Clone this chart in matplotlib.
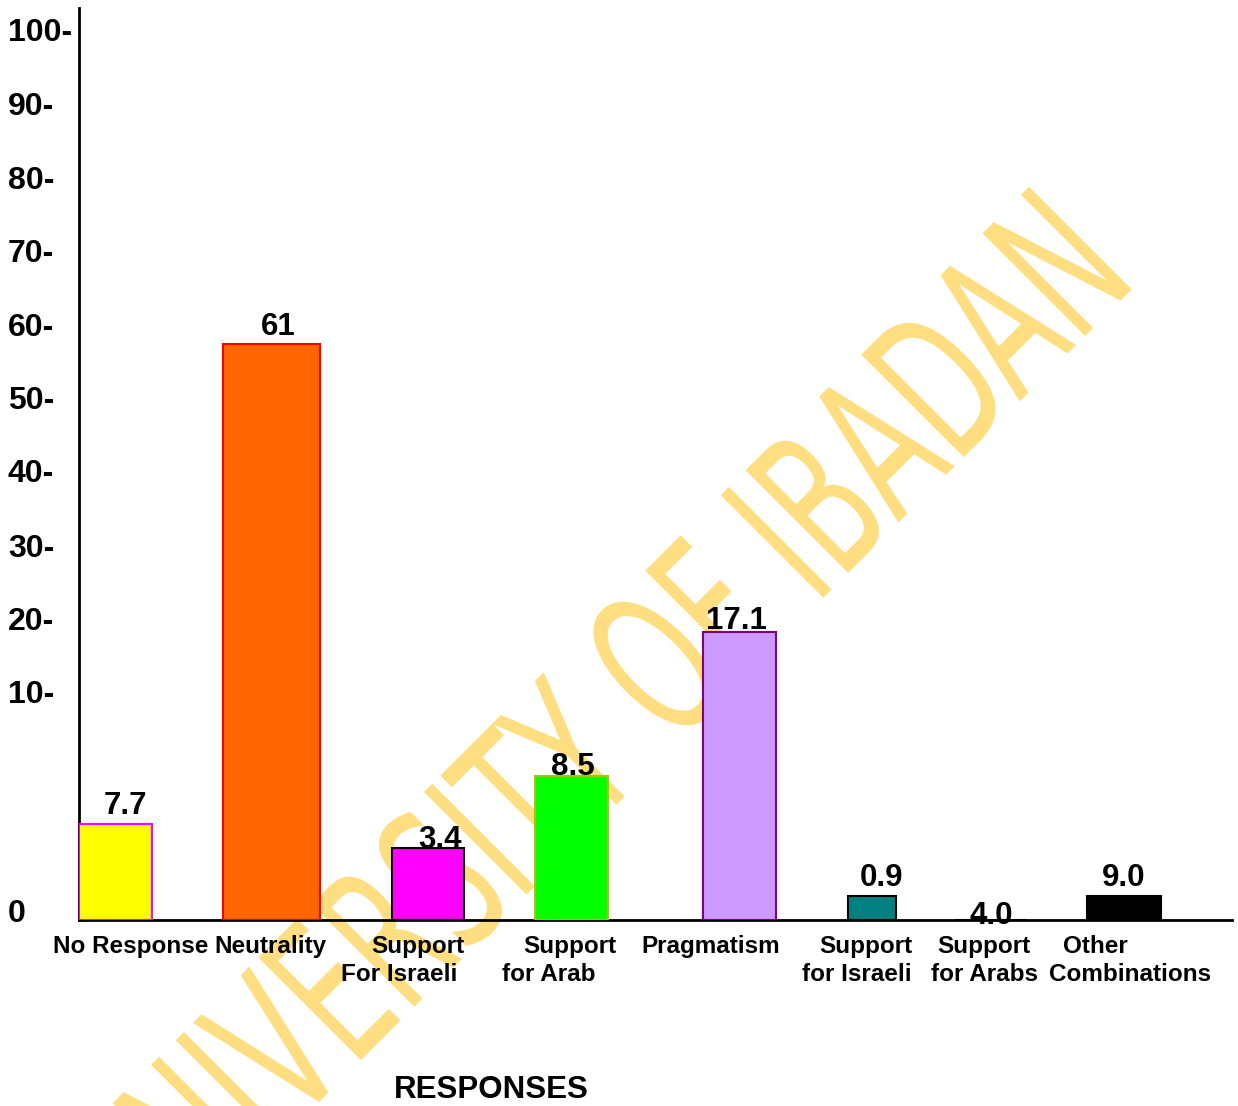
import matplotlib
matplotlib.use("Agg")
import matplotlib.pyplot as plt
import matplotlib.transforms as mtransforms
from matplotlib.font_manager import FontProperties
from matplotlib.patches import PathPatch
from matplotlib.textpath import TextPath

# values printed above the bars
value_labels = ["7.7", "61", "3.4", "8.5", "17.1", "0.9", "4.0", "9.0"]
# bar heights as drawn, read against the chart's own vertical scale
bar_heights = [13.05, 78.3, 9.79, 19.58, 39.15, 3.26, 0.0, 3.26]
cat_line1 = ["No Response", "Neutrality", "Support", "Support", "Pragmatism",
             "Support", "Support", "Other"]
cat_line2 = ["", "", "For Israeli", "for Arab", "", "for Israeli", "for Arabs",
             "Combinations"]
ytick_labels = ["0", "10-", "20-", "30-", "40-", "50-", "60-", "70-", "80-", "90-", "100-"]

# layout: the original spaces its slots unevenly
ytick_pos = [0.8, 30.6, 40.5, 50.5, 60.6, 70.5, 80.5, 90.5, 100.5, 110.5, 120.6]
x_nudge = [0.0, 0.083, 0.169, 0.165, 0.33, 0.252, 0.078, 0.001]
bar_widths = [0.507, 0.674, 0.5, 0.507, 0.507, 0.333, 0.5, 0.514]
face = ["#FFFF00", "#FF6600", "#FF00FF", "#00FF00", "#CC99FF", "#008080", "#000000", "#000000"]
edge = ["#FF00FF", "#FF0000", "#000000", "#99CC00", "#800080", "#000000", "#000000", "#000000"]
lbl_dx = [10, 7, 12, 1, -3, 9.5, 0, 0]      # pixels
lbl_dy = [10, 9, 0, 1, 3, 10, -4, 10]       # pixels
line1_x = [0.106, 1.072, 2.099, 3.155, 4.134, 5.21, 6.03, 6.804]
line2_x = [0, 0, 1.967, 3.009, 0, 5.147, 6.03, 7.047]

FONT = "Liberation Sans"
W, H, DPI = 1238, 1106, 100

fig = plt.figure(figsize=(W / DPI, H / DPI), dpi=DPI)
ax = fig.add_axes([79 / W, (H - 920) / H, (1232 - 79) / W, (920 - 8) / H])

x = [i + d for i, d in enumerate(x_nudge)]
ax.bar(x, bar_heights, width=bar_widths, color=face, edgecolor=edge,
       linewidth=1.5, zorder=3)

for xi, h, t, dx, dy in zip(x, bar_heights, value_labels, lbl_dx, lbl_dy):
    ax.annotate(t, xy=(xi, h), xytext=(dx, dy), textcoords="offset pixels",
                ha="center", va="baseline", fontsize=22.5, fontweight="bold",
                family=FONT, zorder=5)

ax.set_xlim(-0.255, 7.752)
ax.set_ylim(0, 124)
ax.set_xticks([])
ax.set_yticks([])
for s in ("top", "right"):
    ax.spines[s].set_visible(False)
for s in ("left", "bottom"):
    ax.spines[s].set_linewidth(2)

# y labels sit at the figure's left edge, not at the spine
ytr = mtransforms.blended_transform_factory(fig.transFigure, ax.transData)
for p, t in zip(ytick_pos, ytick_labels):
    ax.text(8 / W, p, t, transform=ytr, ha="left", va="center", fontsize=23,
            fontweight="bold", family=FONT, clip_on=False)

# category labels, one line at a time
xtr = mtransforms.blended_transform_factory(ax.transData, fig.transFigure)
for t, px in zip(cat_line1, line1_x):
    ax.text(px, (H - 953) / H, t, transform=xtr, ha="center", va="baseline",
            fontsize=17.5, fontweight="bold", family=FONT, zorder=5, clip_on=False)
for t, px in zip(cat_line2, line2_x):
    if t:
        ax.text(px, (H - 981) / H, t, transform=xtr, ha="center", va="baseline",
                fontsize=17.5, fontweight="bold", family=FONT, zorder=5, clip_on=False)

fig.text(491 / W, (H - 1098) / H, "RESPONSES", ha="center", va="baseline",
         fontsize=22.5, fontweight="bold", family=FONT)

# diagonal watermark, behind the bars
tp = TextPath((0, 0), "UNIVERSITY OF IBADAN", size=199, prop=FontProperties(family="DejaVu Sans"))
wm = mtransforms.Affine2D().scale(0.6, 1.0).rotate_deg(45).translate(145, -170)
ax.add_artist(PathPatch(wm.transform_path(tp), facecolor="#FFDE82", edgecolor="none",
                        transform=mtransforms.IdentityTransform(), zorder=0.5, clip_on=False))

fig.savefig("out.png", dpi=DPI)
